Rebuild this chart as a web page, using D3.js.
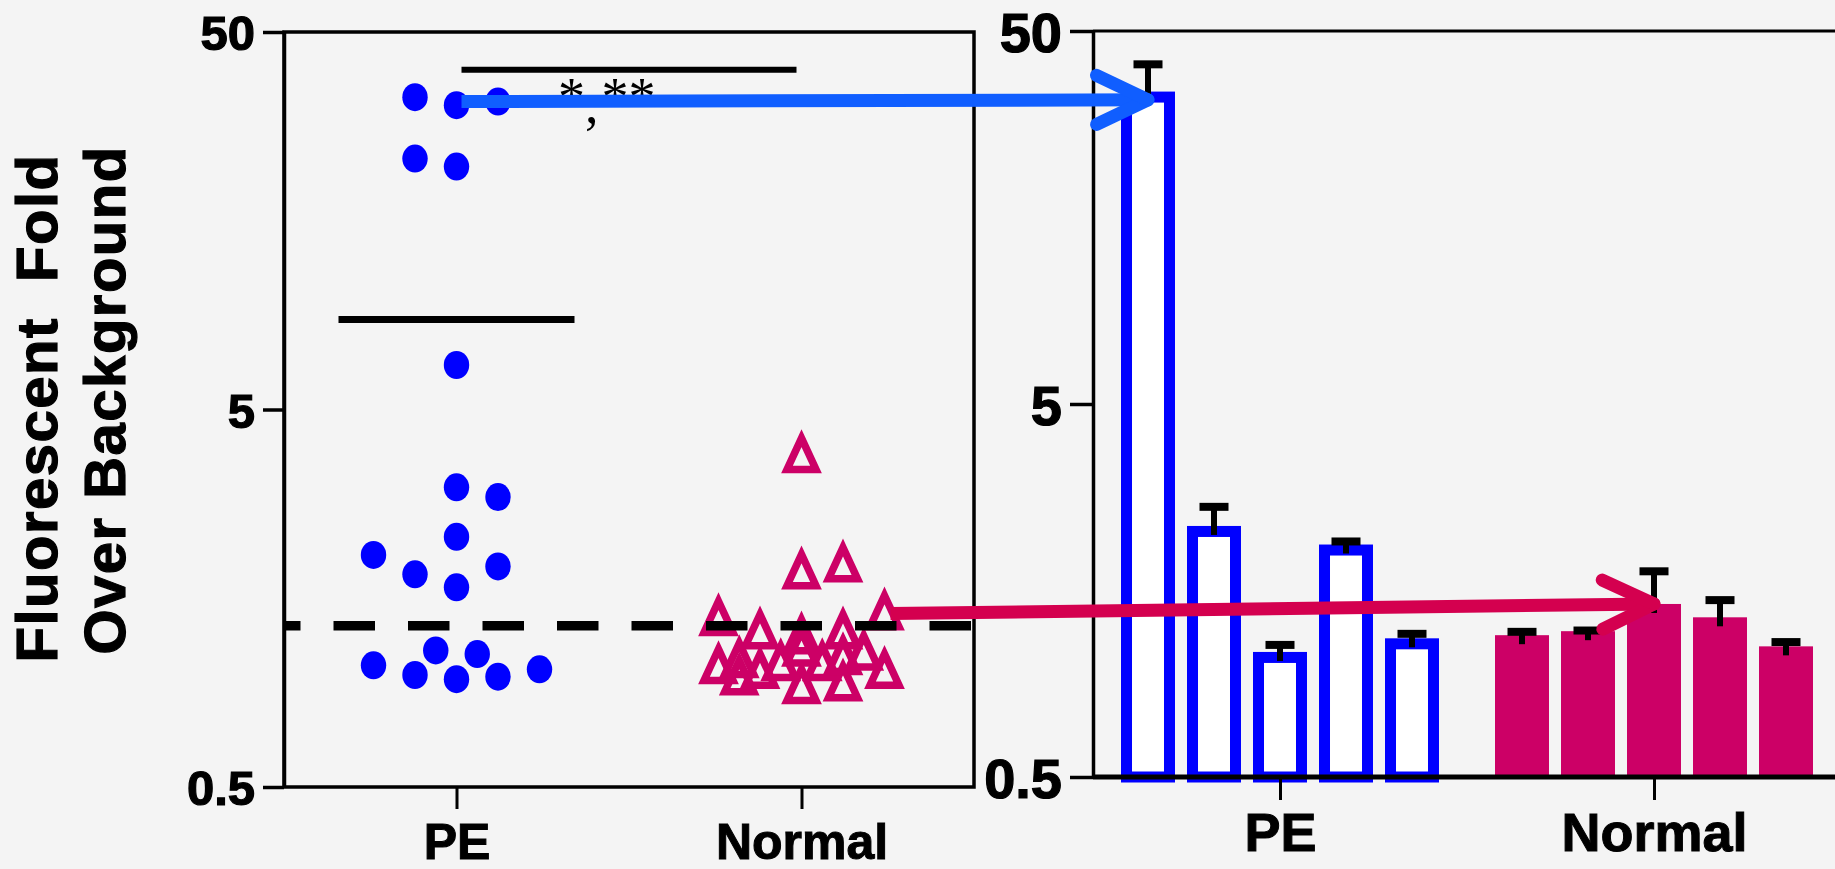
<!DOCTYPE html>
<html><head><meta charset="utf-8">
<script src="https://cdn.jsdelivr.net/npm/d3@7/dist/d3.min.js"></script>
<style>
html,body{margin:0;padding:0;background:#f4f4f4;}
svg{display:block;}
</style></head>
<body>
<svg id="chart" width="1835" height="869"></svg>
<script>
// ---------------- DATA ----------------
const groups = ["PE", "Normal"];
const yTicks = [0.5, 5, 50];
const yTitle = ["Fluorescent  Fold", "Over Background"];

// scatter (left panel): individual values and beeswarm column slot
const peValues = [33.6, 32.0, 32.7, 23.1, 22.0, 6.56, 3.11, 2.93, 2.30, 2.06, 1.83, 1.92, 1.69,
                  1.05, 0.99, 1.15, 0.965, 1.125, 0.98, 1.025];
const peSlots  = [-1, 0, 1, -1, 0, 0, 0, 1, 0, -2, -1, 1, 0,
                  -2, -1, -0.5, 0, 0.5, 1, 2];
const normalValues = [3.84, 1.89, 1.97, 1.42, 1.47, 1.31, 1.27, 1.31, 1.06, 1.10,
                      1.03, 1.03, 0.938, 0.954, 1.08, 1.08, 1.15, 1.18, 1.12, 0.99];
const normalSlots  = [0, 0, 1, -2, 2, -1, 0, 1, -2, -1.5,
                      -1, 2, 0, 1, -0.5, 0.5, 1.5, 0, 1, -1.5];
const cutoff = 1.337;          // dashed reference line
const sigLevel = 39.7;         // significance bracket level
const sigText = ["*", ",", "**"];

// bar panel (right): per-sample mean and error
const peBarMeans = [34.4, 2.355, 1.082, 2.10, 1.177];
const peBarErr   = [6.3, 0.295, 0.048, 0.04, 0.033];
const normalBarMeans = [1.20, 1.23, 1.455, 1.34, 1.12];
const normalBarErr   = [0.025, 0.005, 0.325, 0.15, 0.03];

// arrows linking panels (value levels)
const blueArrowLevel = 32.7;
const pinkArrowFrom = 1.44, pinkArrowTo = 1.455;

// ---------------- LAYOUT ----------------
const svg = d3.select("#chart");
const FONT = "'Liberation Sans', Arial, Helvetica, sans-serif";
const BLUE = "#0000ff", MAG = "#cc0066", ARROW_BLUE = "#105eff", ARROW_PINK = "#d4004f";

svg.append("rect").attr("width", 1835).attr("height", 869).attr("fill", "#f4f4f4");

const L = {x0: 284, x1: 974, y0: 32, y1: 787};
const R = {x0: 1093, x1: 1841, y0: 31, y1: 777};

const xL = d3.scalePoint().domain(groups).range([L.x0, L.x1]).padding(0.5);
const yL = d3.scaleLog().domain([0.5, 50]).range([L.y1, L.y0]);
const jitter = d3.scaleLinear().domain([-1, 1]).range([-41.5, 41.5]);

const xR = d3.scalePoint().domain(groups).range([R.x0, R.x1]).padding(0.5);
const yR = d3.scaleLog().domain([0.5, 50]).range([R.y1, R.y0]);
const inner = d3.scaleBand().domain(d3.range(5)).range([-165, 165]).paddingInner(0.182).paddingOuter(0.091);

function heavy(sel, w) {
  sel.attr("font-family", FONT).attr("font-weight", "bold").attr("fill", "#000")
     .attr("stroke", "#000").attr("stroke-width", w).attr("paint-order", "stroke");
}

// ---------------- LEFT PANEL ----------------
const gL = svg.append("g");

// frame
gL.append("rect").attr("x", L.x0).attr("y", L.y0).attr("width", L.x1 - L.x0).attr("height", L.y1 - L.y0)
  .attr("fill", "none").attr("stroke", "#000").attr("stroke-width", 3.5);

// y axis
const axL = gL.append("g").attr("transform", `translate(${L.x0},0)`)
  .call(d3.axisLeft(yL).tickValues(yTicks).tickFormat(d => String(d)).tickSize(21).tickSizeOuter(0).tickPadding(8));
axL.select(".domain").attr("stroke-width", 3.5);
axL.selectAll(".tick line").attr("stroke-width", 3.5);
axL.selectAll(".tick text").attr("font-size", 49).attr("dy", "0.36em").call(heavy, 1.2);

// x axis
const axLx = gL.append("g").attr("transform", `translate(0,${L.y1})`)
  .call(d3.axisBottom(xL).tickSize(22).tickSizeOuter(0).tickPadding(14));
axLx.select(".domain").remove();
axLx.selectAll(".tick line").attr("stroke-width", 3);
axLx.selectAll(".tick text").attr("font-size", 50).call(heavy, 1);

// dots (PE)
gL.selectAll("ellipse.pe").data(peValues.map((v, i) => ({v, s: peSlots[i]}))).join("ellipse")
  .attr("class", "pe")
  .attr("cx", d => xL("PE") + jitter(d.s)).attr("cy", d => yL(d.v))
  .attr("rx", 12.7).attr("ry", 14).attr("fill", BLUE);

// triangles (Normal)
const triType = {
  draw(ctx, size) {
    const w = Math.sqrt(size), h = w * 1.08;
    ctx.moveTo(0, -h / 2);
    ctx.lineTo(w / 2, h / 2);
    ctx.lineTo(-w / 2, h / 2);
    ctx.closePath();
  }
};
gL.selectAll("path.nm").data(normalValues.map((v, i) => ({v, s: normalSlots[i]}))).join("path")
  .attr("class", "nm")
  .attr("d", d3.symbol().type(triType).size(29 * 29))
  .attr("transform", d => `translate(${xL("Normal") + jitter(d.s)},${yL(d.v) + 1})`)
  .attr("fill", "none").attr("stroke", MAG).attr("stroke-width", 7.5).attr("stroke-linejoin", "miter").attr("stroke-miterlimit", 10);

// mean line PE
const peMean = d3.mean(peValues);
gL.append("line").attr("x1", xL("PE") - 118).attr("x2", xL("PE") + 118)
  .attr("y1", yL(peMean)).attr("y2", yL(peMean)).attr("stroke", "#000").attr("stroke-width", 7);

// dashed cutoff line
gL.append("line").attr("x1", L.x0).attr("x2", L.x1).attr("y1", yL(cutoff)).attr("y2", yL(cutoff))
  .attr("stroke", "#000").attr("stroke-width", 9.3).attr("stroke-dasharray", "41.5 33").attr("stroke-dashoffset", 25);

// significance bracket
gL.append("line").attr("x1", xL("PE") + 5).attr("x2", xL("Normal") - 5)
  .attr("y1", yL(sigLevel)).attr("y2", yL(sigLevel)).attr("stroke", "#000").attr("stroke-width", 6);
const st = gL.append("text").attr("x", 558).attr("y", yL(sigLevel) + 45)
  .attr("font-family", "'Liberation Serif', 'Times New Roman', serif").attr("font-size", 54).attr("fill", "#000");
st.append("tspan").text(sigText[0]);
st.append("tspan").attr("dy", 8).text(sigText[1]);
st.append("tspan").attr("dy", -8).attr("dx", 3).text(sigText[2]);

// y axis title
yTitle.forEach((t, i) => {
  svg.append("text").attr("transform", `translate(${[57, 125][i]},${[408, 400][i]}) rotate(-90)`)
    .attr("text-anchor", "middle").attr("font-size", 58).attr("letter-spacing", 1.5)
    .attr("xml:space", "preserve").call(heavy, 1.2).text(t);
});

// ---------------- RIGHT PANEL ----------------
const gR = svg.append("g");
const barData = [];
peBarMeans.forEach((m, i) => barData.push({g: "PE", i, m, e: peBarErr[i]}));
normalBarMeans.forEach((m, i) => barData.push({g: "Normal", i, m, e: normalBarErr[i]}));
const bw = inner.bandwidth();
const SW = 11;

gR.selectAll("rect.bar").data(barData).join("rect").attr("class", "bar")
  .attr("x", d => xR(d.g) + inner(d.i) + (d.g === "PE" ? SW / 2 : 0))
  .attr("y", d => yR(d.m) + (d.g === "PE" ? SW / 2 : 0))
  .attr("width", d => bw - (d.g === "PE" ? SW : 0))
  .attr("height", d => R.y1 - yR(d.m) - (d.g === "PE" ? SW / 2 : 0))
  .attr("fill", d => d.g === "PE" ? "#fff" : MAG)
  .attr("stroke", d => d.g === "PE" ? BLUE : "none")
  .attr("stroke-width", SW);

// error bars
const cx = d => xR(d.g) + inner(d.i) + bw / 2;
gR.selectAll("line.err").data(barData).join("line").attr("class", "err")
  .attr("x1", cx).attr("x2", cx)
  .attr("y1", d => yR(d.m) + 9).attr("y2", d => yR(d.m + d.e))
  .attr("stroke", "#000").attr("stroke-width", 6);
gR.selectAll("line.cap").data(barData).join("line").attr("class", "cap")
  .attr("x1", d => cx(d) - 14.5).attr("x2", d => cx(d) + 14.5)
  .attr("y1", d => yR(d.m + d.e)).attr("y2", d => yR(d.m + d.e))
  .attr("stroke", "#000").attr("stroke-width", 8);

// top line
gR.append("line").attr("x1", R.x0).attr("x2", 1835).attr("y1", R.y0).attr("y2", R.y0)
  .attr("stroke", "#000").attr("stroke-width", 3);

// y axis
const axR = gR.append("g").attr("transform", `translate(${R.x0},0)`)
  .call(d3.axisLeft(yR).tickValues(yTicks).tickFormat(d => String(d)).tickSize(23).tickSizeOuter(0).tickPadding(8));
axR.select(".domain").attr("stroke-width", 3.5);
axR.selectAll(".tick line").attr("stroke-width", 3.5);
axR.selectAll(".tick text").attr("font-size", 56).attr("dy", "0.36em").call(heavy, 1.2);

// x axis
const axRx = gR.append("g").attr("transform", `translate(0,${R.y1})`)
  .call(d3.axisBottom(xR).tickSize(23).tickSizeOuter(0).tickPadding(13));
axRx.select(".domain").remove();
axRx.selectAll(".tick line").attr("stroke-width", 3);
axRx.selectAll(".tick text").attr("font-size", 54).call(heavy, 1);
gR.append("line").attr("x1", R.x0).attr("x2", 1835).attr("y1", R.y1).attr("y2", R.y1)
  .attr("stroke", "#000").attr("stroke-width", 5);

// ---------------- ARROWS ----------------
function arrow(x1, y1, x2, y2, color) {
  const g = svg.append("g");
  g.append("line").attr("x1", x1).attr("y1", y1).attr("x2", x2).attr("y2", y2)
    .attr("stroke", color).attr("stroke-width", 13).attr("stroke-linecap", "butt");
  const a = Math.atan2(y2 - y1, x2 - x1), len = 57, sp = 25.5 * Math.PI / 180;
  [-sp, sp].forEach(s => {
    g.append("line").attr("x1", x2).attr("y1", y2)
      .attr("x2", x2 - len * Math.cos(a + s)).attr("y2", y2 - len * Math.sin(a + s))
      .attr("stroke", color).attr("stroke-width", 13).attr("stroke-linecap", "round");
  });
}
arrow(xL("PE") + 5, yL(blueArrowLevel), xR("PE") + inner(0) + bw / 2, yR(blueArrowLevel), ARROW_BLUE);
arrow(xL("Normal") + 89, yL(pinkArrowFrom), xR("Normal") + inner(2) + bw / 2, yR(pinkArrowTo), ARROW_PINK);
</script>
</body></html>
